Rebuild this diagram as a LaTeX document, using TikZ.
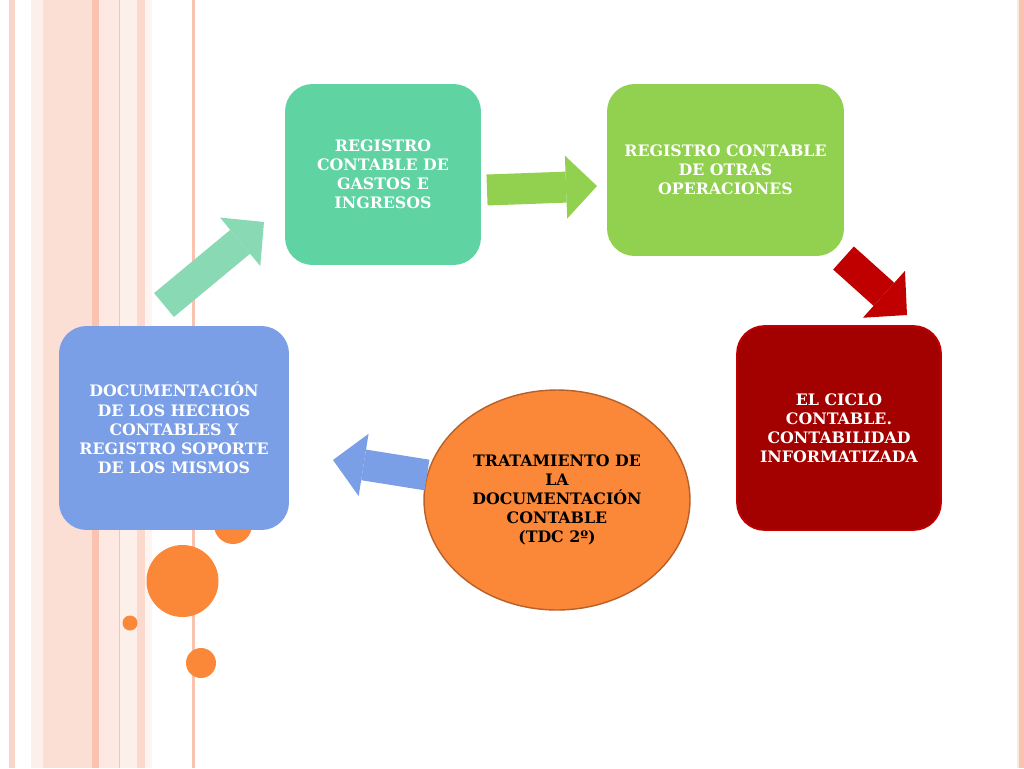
\documentclass[tikz,border=0pt]{standalone}
\usepackage{fontspec}
\setmainfont{DejaVu Serif}
\usetikzlibrary{shapes.geometric, arrows.meta}

\definecolor{verdeagua}{HTML}{60D3A2}
\definecolor{verdeclaro}{HTML}{88D9B4}
\definecolor{lima}{HTML}{92D050}
\definecolor{granate}{HTML}{A30000}
\definecolor{rojo}{HTML}{C00000}
\definecolor{azul}{HTML}{7B9FE6}
\definecolor{naranja}{HTML}{FB8738}
\definecolor{naranjaborde}{HTML}{B8602A}
\definecolor{rosa1}{HTML}{F9D5C9}
\definecolor{rosa2}{HTML}{FDEFEA}
\definecolor{rosa3}{HTML}{FBDED4}
\definecolor{rosa4}{HTML}{F9C3B0}
\definecolor{rosa5}{HTML}{FDE9E2}
\definecolor{rosa6}{HTML}{FBD9CD}

\tikzset{
  caja/.style={rounded corners=0.55cm, minimum width=#1, align=center, text=white,
    font=\bfseries\fontsize{9}{10.9}\selectfont},
  flecha/.style={line width=0.62cm, -{Triangle[length=0.62cm, width=1.26cm, line width=0pt]}},
  bola/.style={fill=naranja}
}

\begin{document}
\begin{tikzpicture}[x=0.02cm, y=-0.02cm]
  \useasboundingbox[fill=white] (0,0) rectangle (1024,768);

  % Franjas del fondo
  \fill[rosa1] (9,0) rectangle (15,768);
  \fill[rosa2] (31,0) rectangle (43,768);
  \fill[rosa3] (43,0) rectangle (92,768);
  \fill[rosa4] (92,0) rectangle (99,768);
  \fill[rosa5] (99,0) rectangle (119,768);
  \fill[rosa2] (119,0) rectangle (137,768);
  \fill[rosa6] (137,0) rectangle (145,768);
  \fill[rosa2!60] (145,0) rectangle (152,768);
  \draw[rosa4, line width=0.4pt] (119,0) -- (119,768);
  \fill[rosa4] (192,0) rectangle (195,768);
  \fill[rosa5] (1017,0) rectangle (1019,768);
  \fill[rosa4] (1019,0) rectangle (1024,768);

  % Circulos naranjas
  \fill[bola] (233,525) circle (19);
  \fill[bola] (182.5,581) circle (36);
  \fill[bola] (130,623) circle (7.5);
  \fill[bola] (201,663) circle (15);

  % Cajas
  \node[caja=3.92cm, minimum height=3.62cm, fill=verdeagua] (gastos) at (383,174.5)
    {REGISTRO\\CONTABLE DE\\GASTOS E\\INGRESOS};
  \node[caja=4.74cm, minimum height=3.44cm, fill=lima] (otras) at (725.5,170)
    {REGISTRO CONTABLE\\DE OTRAS\\OPERACIONES};
  \node[caja=4.08cm, minimum height=4.08cm, fill=granate, draw=rojo, line width=1pt] (ciclo) at (839,428)
    {EL CICLO\\CONTABLE.\\CONTABILIDAD\\INFORMATIZADA};
  \node[caja=4.6cm, minimum height=4.08cm, fill=azul] (docu) at (174,428)
    {DOCUMENTACIÓN\\DE LOS HECHOS\\CONTABLES Y\\REGISTRO SOPORTE\\DE LOS MISMOS};
  \node[ellipse, minimum width=5.32cm, minimum height=4.4cm, fill=naranja, draw=naranjaborde,
    line width=0.8pt, align=center, font=\bfseries\fontsize{9}{10.9}\selectfont] (tdc) at (557,500)
    {TRATAMIENTO DE\\LA\\DOCUMENTACIÓN\\CONTABLE\\(TDC 2º)};

  % Flechas
  \coordinate (f1a) at (164,305);
  \coordinate (f1b) at (264,222);
  \draw[flecha, verdeclaro] (f1a) -- (f1b);
  \coordinate (f2a) at (487,190);
  \coordinate (f2b) at (597,186);
  \draw[flecha, lima] (f2a) -- (f2b);
  \coordinate (f3a) at (843.5,258);
  \coordinate (f3b) at (907,315);
  \draw[flecha, rojo] (f3a) -- (f3b);
  \coordinate (f4a) at (427,475);
  \coordinate (f4b) at (333,460);
  \draw[flecha, azul] (f4a) -- (f4b);
\end{tikzpicture}
\end{document}
